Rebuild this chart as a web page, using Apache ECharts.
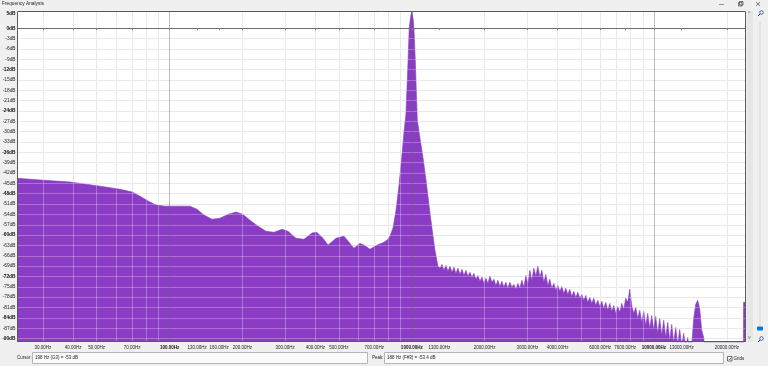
<!DOCTYPE html>
<html><head><meta charset="utf-8">
<script src="https://cdn.jsdelivr.net/npm/echarts@6/dist/echarts.min.js"></script>
<style>html,body{margin:0;padding:0;background:#f0f0f0;}#c{width:768px;height:366px;}</style>
</head><body><div id="c"></div>
<script>
// ---- data ----
const freqHz = [
23.44,29.2,38.8,51.6,62.4,70,75.5,81.4,87.9,95.8,121.4,129.8,138.7,149.7,161.5,174.3,188,201,214.8,231.8,250.1,269.9,291.2,308.3,332.6,358.9,387.3,405,430,451,487,525,556,577,611,635,672,719,768,798,
813,837,861,886,911,929,946,965,976,988,999,1012,1021,1034,1054,1081,1113,1145,1178,1212,1247,
1283,1308,1333,1358,1384,1411,1438,1466,1494,1522,
1552,1581,1612,1643,1674,1706,1739,1772,1806,1841,
1876,1912,1949,1986,2024,2063,2102,2143,2184,2226,
2268,2312,2356,2401,2447,2494,2542,2591,2640,2691,
2743,2795,2849,2903,2959,3016,3074,3133,3193,3254,
3316,3380,3445,3511,3578,3647,3717,3788,3861,3935,
4010,4087,4166,4245,4327,4410,4494,4580,4668,4758,
4849,4942,5037,5133,5232,5332,5434,5539,5645,5753,
5864,5976,6091,6208,6327,6448,6572,6698,6826,6957,
7091,7227,7365,7507,7651,7797,7947,8099,8255,8413,
8574,8739,8906,9077,9251,9428,9609,9793,9981,10172,
10368,10567,10769,10976,11186,11401,11620,11843,12070,12301,
12537,12778,13023,13273,13528,13787,14052,14321,14596,14876,
15162,15452,15749,16051,16359,
23400,23450,24000];
const levelDb = [
-43.5,-44,-44.6,-45.8,-46.7,-47.5,-48.7,-50.1,-51.3,-51.6,-51.6,-52.5,-54.2,-55.4,-55.1,-54,-53.3,-54,-55.7,-57.4,-58.9,-59.2,-58.3,-58.9,-60.9,-61.2,-59.4,-59.2,-60.9,-62.9,-60.9,-60.3,-62.4,-63.8,-62.4,-62.9,-64.1,-62.9,-62.1,-61.2,
-60.3,-57.9,-52.8,-45.5,-36.8,-30.1,-25,-10,0,3,4.9,3,0,-9.2,-26.6,-31.8,-37.6,-44,-51.3,-58,-64.4,
-69.0,-69.6,-68.5,-70.2,-68.8,-70.5,-69.0,-70.8,-69.3,-71.1,
-69.6,-71.4,-69.9,-71.7,-70.2,-71.9,-70.8,-72.2,-71.1,-72.8,
-71.7,-73.4,-72.2,-74.0,-72.5,-74.0,-71.9,-73.7,-72.8,-74.6,
-73.1,-74.9,-73.4,-75.1,-73.7,-75.4,-73.7,-75.1,-74.3,-75.7,
-74.0,-75.4,-73.1,-75.1,-71.7,-74.3,-70.2,-73.1,-69.6,-71.9,
-69.0,-72.2,-70.2,-73.7,-71.4,-74.6,-72.8,-75.4,-74.0,-76.0,
-74.6,-76.3,-74.9,-76.9,-75.4,-77.2,-75.7,-77.8,-76.3,-78.1,
-76.6,-78.3,-77.2,-78.9,-77.5,-79.5,-78.1,-79.8,-78.3,-80.4,
-78.9,-80.7,-79.2,-81.3,-79.5,-81.8,-79.8,-82.1,-80.4,-82.7,
-80.7,-82.4,-79.8,-81.5,-78.3,-79.5,-75.7,-80.4,-82.7,-81.0,
-84.2,-81.8,-85.3,-82.1,-86.2,-82.7,-87.1,-83.3,-87.6,-83.6,
-88.5,-84.2,-89.1,-84.7,-89.7,-85.3,-90.6,-85.9,-91.2,-86.8,
-91.7,-87.4,-92.0,-88.5,-92.3,-89.7,-93.5,-92.0,-84.2,-80.1,
-78.9,-81.3,-87.6,-89.7,-96.4,
-96.4,-79.5,-79.5];
const gridMinorHz = [30,40,50,60,70,80,90,200,300,400,500,600,700,800,900,2000,3000,4000,5000,6000,7000,8000,9000,20000];
const gridMajorHz = [100,1000,10000];
const xLabelHz = [30,40,50,70,100,130,160,200,300,400,500,700,1000,1300,2000,3000,4000,6000,7600,10000,13000,20000];
const xBoldHz = [100,1000,10000];
const yLabelDb = [5,0,-3,-6,-9,-12,-15,-18,-21,-24,-27,-30,-33,-36,-39,-42,-45,-48,-51,-54,-57,-60,-63,-66,-69,-72,-75,-78,-81,-84,-87,-90];
const yBoldDb = [5,0,-12,-24,-36,-48,-60,-72,-84,-90];
const yMinorDb = [-3,-6,-9,-12,-15,-18,-21,-24,-27,-30,-33,-36,-39,-42,-45,-48,-51,-54,-57,-60,-63,-66,-69,-72,-75,-78,-81,-84,-87,-90];
const yZeroDb = [0];
const fMin = 23.4375, fMax = 24000, dbMin = -91, dbMax = 5;
const titleText = 'Frequency Analysis';
const cursorText = '198 Hz (G3) = -53 dB';
const peakText = '188 Hz (F#3) = -53.4 dB';

// ---- chart ----
const L = Math.log10;
const FONT = 'Liberation Sans';
const PURPLE = '#8a3cc4';
const chart = echarts.init(document.getElementById('c'), null, {renderer:'canvas'});
const GL = 17, GT = 11, GR = 746, GB = 342;
const UNDER = '#e1e1e1', OVER = 'rgba(255,255,255,0.28)';

function hiddenX(extra){
  return Object.assign({type:'value', min:L(fMin), max:L(fMax), position:'bottom', z:5,
    axisLine:{show:false}, axisTick:{show:false}, axisLabel:{show:false}, splitLine:{show:false}}, extra);
}
function hiddenY(extra){
  return Object.assign({type:'value', min:dbMin, max:dbMax, position:'left', z:5,
    axisLine:{show:false}, axisTick:{show:false}, axisLabel:{show:false}, splitLine:{show:false}}, extra);
}
function gridX(values, color, z){
  return hiddenX({z:z, axisTick:{show:false, customValues:values.map(L)}, splitLine:{show:true, lineStyle:{color:color, width:1}}});
}
function gridY(values, color, z){
  return hiddenY({z:z, axisTick:{show:false, customValues:values}, splitLine:{show:true, lineStyle:{color:color, width:1}}});
}

const option = {
  animation:false,
  backgroundColor:'#f0f0f0',
  textStyle:{fontFamily:FONT},
  grid:{left:GL, top:GT, right:768-GR, bottom:366-GB, show:true, backgroundColor:'#ffffff', borderWidth:0, containLabel:false, outerBoundsMode:'none'},
  xAxis:[
    {type:'log', logBase:10, min:fMin, max:fMax, show:false},
    gridX(gridMinorHz, UNDER, 0),
    gridX(gridMinorHz, OVER, 5),
    gridX(gridMajorHz, 'rgba(100,100,100,0.45)', 6),
    hiddenX({z:6, axisTick:{show:true, length:2, lineStyle:{color:'#888'}, customValues:xLabelHz.map(L)},
      axisLabel:{show:true, customValues:xLabelHz.map(L), margin:3, fontSize:4.5, color:'#222', fontFamily:FONT,
        formatter:function(v){const hz=Math.round(Math.pow(10,v)); const s=hz.toFixed(2)+'Hz'; return xBoldHz.indexOf(hz)>=0?'{b|'+s+'}':s;},
        rich:{b:{fontWeight:'bold', fontSize:4.5, color:'#111', fontFamily:FONT}}}})
  ],
  yAxis:[
    hiddenY({z:0}),
    gridY(yMinorDb, UNDER, 0),
    gridY(yMinorDb, OVER, 5),
    gridY(yZeroDb, '#6e6e6e', 6),
    hiddenY({z:6, axisLabel:{show:true, customValues:yLabelDb, margin:1.5, fontSize:4.8, color:'#222', fontFamily:FONT,
        formatter:function(v){const s=v+'dB'; const b=yBoldDb.indexOf(v)>=0; if(v===dbMax) return '{t|'+s+'}'; return b?'{b|'+s+'}':s;},
        rich:{b:{fontWeight:'bold', fontSize:4.8, color:'#111', fontFamily:FONT}, t:{fontWeight:'bold', fontSize:4.8, color:'#111', fontFamily:FONT, padding:[6,0,0,0]}}}})
  ],
  series:[{
    type:'line', xAxisIndex:0, yAxisIndex:0, z:1, silent:true,
    data:freqHz.map((f,i)=>[f, levelDb[i]]),
    symbol:'none', smooth:false,
    lineStyle:{width:0.6, color:PURPLE},
    areaStyle:{color:PURPLE, opacity:1, origin:'start'}
  }],
  graphic:[
    {type:'text', left:2, top:1, style:{text:titleText, fontSize:4.8, fill:'#222', fontFamily:FONT}},
    {type:'line', shape:{x1:719, y1:4.5, x2:724, y2:4.5}, style:{stroke:'#555', lineWidth:0.6}},
    {type:'rect', shape:{x:738.5, y:2.5, width:3.5, height:3.5}, style:{fill:null, stroke:'#444', lineWidth:0.7}},
    {type:'rect', shape:{x:739.5, y:1.5, width:3.5, height:3.5}, style:{fill:null, stroke:'#444', lineWidth:0.7}},
    {type:'line', shape:{x1:756, y1:2, x2:760, y2:6}, style:{stroke:'#444', lineWidth:0.7}},
    {type:'line', shape:{x1:760, y1:2, x2:756, y2:6}, style:{stroke:'#444', lineWidth:0.7}},
    {type:'rect', z:100, shape:{x:GL+0.5, y:GT+0.5, width:GR-GL-1, height:GB-GT-1}, style:{fill:null, stroke:'#5a5a5a', lineWidth:1}},
    {type:'rect', shape:{x:747, y:11, width:6, height:331}, style:{fill:'#e6e6e6'}},
    {type:'text', x:748, y:11, style:{text:'^', fontSize:5, fill:'#666', fontFamily:FONT}},
    {type:'text', x:748, y:335, style:{text:'v', fontSize:5, fill:'#666', fontFamily:FONT}},
    {type:'line', shape:{x1:760, y1:22, x2:760, y2:330}, style:{stroke:'#d8d8d8', lineWidth:1}},
    {type:'rect', shape:{x:757, y:326.5, width:6, height:4, r:1}, style:{fill:'#0078d7'}},
    {type:'circle', shape:{cx:761.5, cy:12.5, r:1.8}, style:{fill:null, stroke:'#2a4a80', lineWidth:0.8}},
    {type:'line', shape:{x1:760.2, y1:13.8, x2:758, y2:16}, style:{stroke:'#2a4a80', lineWidth:1}},
    {type:'circle', shape:{cx:761.5, cy:338.5, r:1.8}, style:{fill:null, stroke:'#2a4a80', lineWidth:0.8}},
    {type:'line', shape:{x1:760.2, y1:339.8, x2:758, y2:342}, style:{stroke:'#2a4a80', lineWidth:1}},
    {type:'text', x:17, y:355.5, style:{text:'Cursor:', fontSize:4.5, fill:'#222', fontFamily:FONT}},
    {type:'rect', shape:{x:32.5, y:352.5, width:335, height:11}, style:{fill:'#fafafa', stroke:'#b5b5b5', lineWidth:1}},
    {type:'text', x:35, y:355.5, style:{text:cursorText, fontSize:4.5, fill:'#222', fontFamily:FONT}},
    {type:'text', x:372, y:355.5, style:{text:'Peak:', fontSize:4.5, fill:'#222', fontFamily:FONT}},
    {type:'rect', shape:{x:384.5, y:352.5, width:339, height:11}, style:{fill:'#fafafa', stroke:'#b5b5b5', lineWidth:1}},
    {type:'text', x:387, y:355.5, style:{text:peakText, fontSize:4.5, fill:'#222', fontFamily:FONT}},
    {type:'rect', shape:{x:727.5, y:356.5, width:4.5, height:4.5}, style:{fill:'#fff', stroke:'#333', lineWidth:0.7}},
    {type:'polyline', shape:{points:[[728.5,358.8],[729.6,359.9],[731.2,357.6]]}, style:{fill:null, stroke:'#222', lineWidth:0.7}},
    {type:'text', x:733.5, y:356, style:{text:'Grids', fontSize:4.5, fill:'#222', fontFamily:FONT}}
  ]
};
chart.setOption(option);
</script>
</body></html>
